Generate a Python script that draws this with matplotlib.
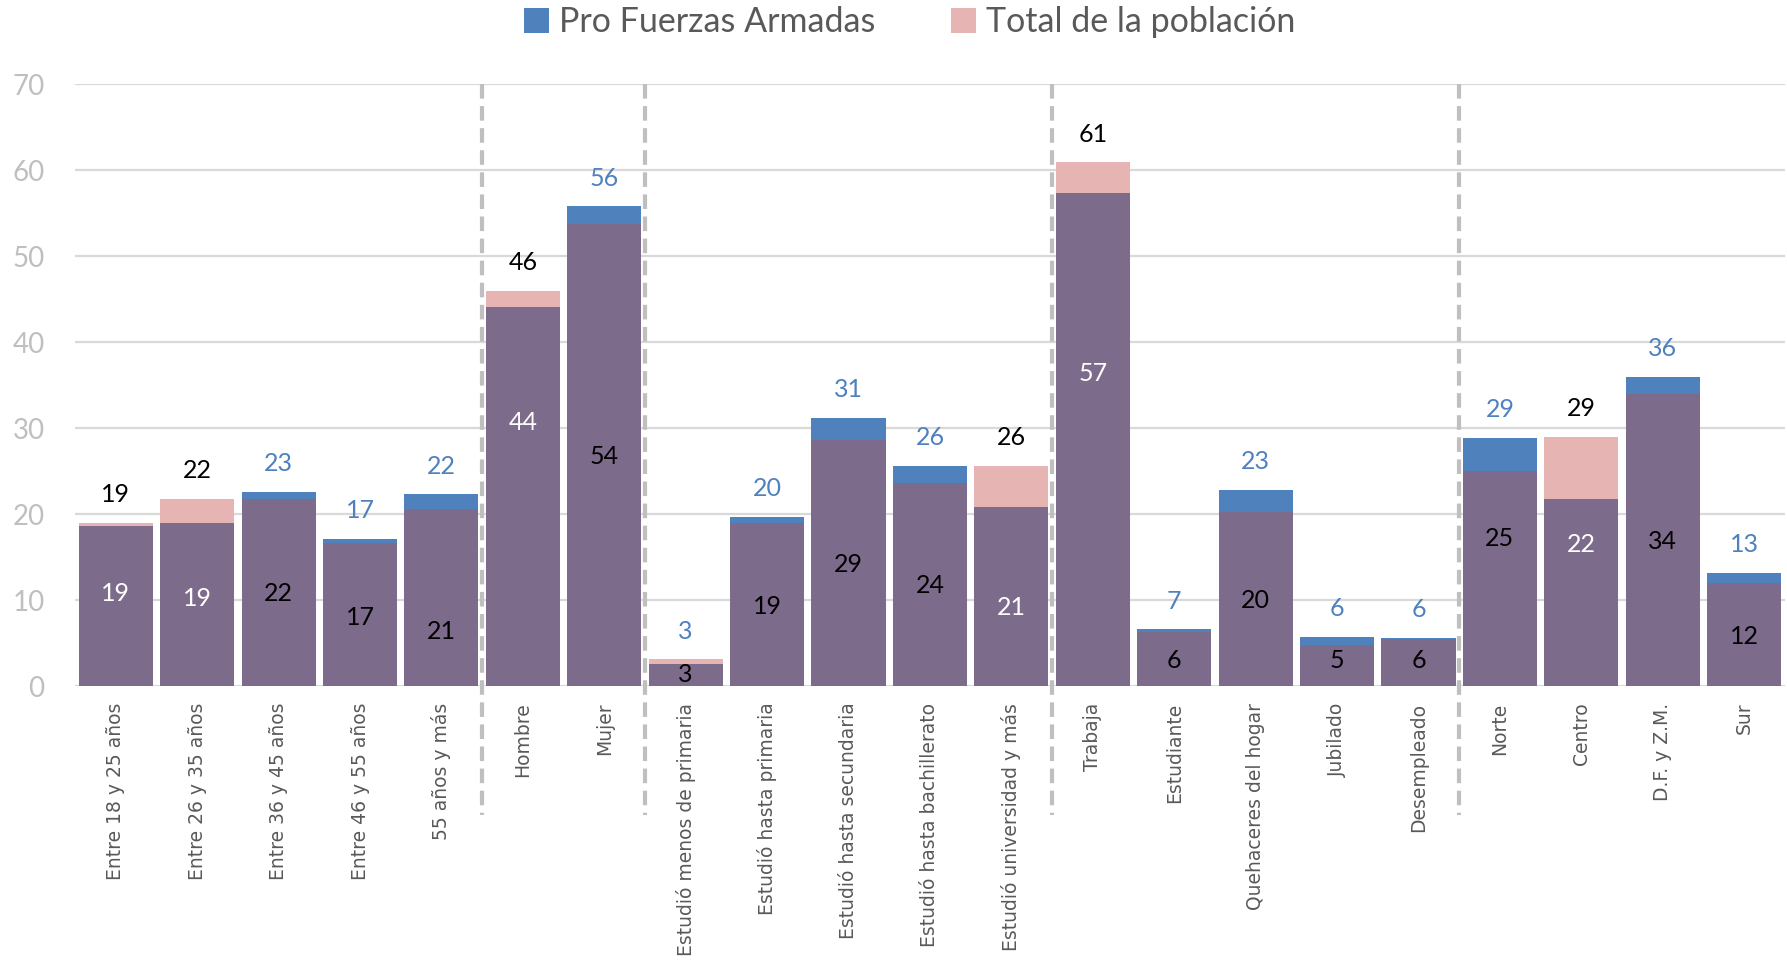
import matplotlib.pyplot as plt
import numpy as np

categories = [
    "Entre 18 y 25 años", "Entre 26 y 35 años", "Entre 36 y 45 años",
    "Entre 46 y 55 años", "55 años y más", "Hombre", "Mujer",
    "Estudió menos de primaria", "Estudió hasta primaria",
    "Estudió hasta secundaria", "Estudió hasta bachillerato",
    "Estudió universidad y más", "Trabaja", "Estudiante",
    "Quehaceres del hogar", "Jubilado", "Desempleado",
    "Norte", "Centro", "D.F. y Z.M.", "Sur",
]
pro_fuerzas = [18.6, 19.0, 22.6, 17.1, 22.3, 44.1, 55.8, 2.6, 19.7, 31.2, 25.6,
               20.8, 57.4, 6.6, 22.8, 5.7, 5.6, 28.9, 21.7, 36.0, 13.2]
total_pob = [19.0, 21.8, 21.7, 16.6, 20.6, 46.0, 53.8, 3.1, 19.0, 28.6, 23.6,
             25.6, 60.9, 6.3, 20.2, 4.8, 5.5, 25.0, 29.0, 34.0, 12.0]
# which series has its label above the bar (True = Pro Fuerzas Armadas)
pro_label_on_top = [False, False, True, True, True, False, True, True, True, True, True,
                    False, False, True, True, True, True, True, False, True, True]
# height (data units) where the inner label of each bar sits
inner_label_y = [10.8, 10.2, 10.8, 8.0, 6.4, 30.6, 26.7, 1.3, 9.3, 14.1, 11.7,
                 9.1, 36.4, 3.0, 9.9, 3.0, 3.0, 17.2, 16.5, 16.8, 5.8]
# group separators sit after these category indices
group_ends = [4, 6, 11, 16]

BLUE = "#4F81BD"
PINK = "#E6B4B3"
PURPLE = "#7D6B8C"
GRID = "#D9D9D9"

blue = np.array(pro_fuerzas)
pink = np.array(total_pob)
x = np.arange(len(categories))

fig = plt.figure(figsize=(17.87, 9.63), dpi=100)
ax = fig.add_axes([0.042, 0.2876, 0.9568, 0.6249])

width = 0.91
ax.bar(x, blue, width=width, color=BLUE, zorder=2, label="Pro Fuerzas Armadas")
ax.bar(x, pink, width=width, color=PINK, zorder=2, label="Total de la población")
ax.bar(x, np.minimum(blue, pink), width=width, color=PURPLE, zorder=3)
# redraw the taller blue caps above pink
mask = blue > pink
ax.bar(x[mask], blue[mask], width=width, color=BLUE, zorder=2.5)

ax.set_xlim(-0.5, len(categories) - 0.5)
ax.set_ylim(0, 70)
ax.set_yticks(np.arange(0, 71, 10))
ax.yaxis.grid(True, color=GRID, linewidth=1.6, zorder=0)
ax.set_axisbelow(True)
for s in ax.spines.values():
    s.set_visible(False)
ax.tick_params(axis="both", length=0)
ax.tick_params(axis="y", pad=22, labelsize=20, labelcolor="#BFBFBF")
for lab in ax.get_yticklabels():
    lab.set_family("Lato")

ax.set_xticks(x)
ax.set_xticklabels(categories, rotation=90, fontsize=13.5, color="#595959",
                   family="DejaVu Sans", va="top", ha="center")
ax.tick_params(axis="x", pad=12)

# data labels
for i in range(len(categories)):
    b, p = blue[i], pink[i]
    top_v = max(b, p)
    if pro_label_on_top[i]:
        ax.annotate(f"{b:.0f}", (i, top_v), xytext=(0, 12), textcoords="offset points",
                    ha="center", va="bottom", fontsize=18, color=BLUE, family="Lato")
        ax.text(i, inner_label_y[i], f"{p:.0f}", ha="center", va="center",
                fontsize=18, color="black", family="Lato", zorder=5)
    else:
        ax.annotate(f"{p:.0f}", (i, top_v), xytext=(0, 12), textcoords="offset points",
                    ha="center", va="bottom", fontsize=18, color="black", family="Lato")
        ax.text(i, inner_label_y[i], f"{b:.0f}", ha="center", va="center",
                fontsize=18, color="white", family="Lato", zorder=5)

# dashed group separators
for g in group_ends:
    ax.plot([g + 0.5, g + 0.5], [70, -15.0], color="#BFBFBF", linewidth=3,
            linestyle=(0, (3.5, 1.8)), clip_on=False, zorder=4)

handles, labels = ax.get_legend_handles_labels()
leg = fig.legend(handles[:2], labels[:2], loc="center", bbox_to_anchor=(0.509, 0.977),
                 ncol=2, frameon=False, handlelength=0.75,
                 handleheight=0.75, handletextpad=0.3, columnspacing=2.2,
                 prop={"family": "Lato", "size": 24.5})
for t in leg.get_texts():
    t.set_color("#595959")

fig.savefig("out.png", dpi=100)
